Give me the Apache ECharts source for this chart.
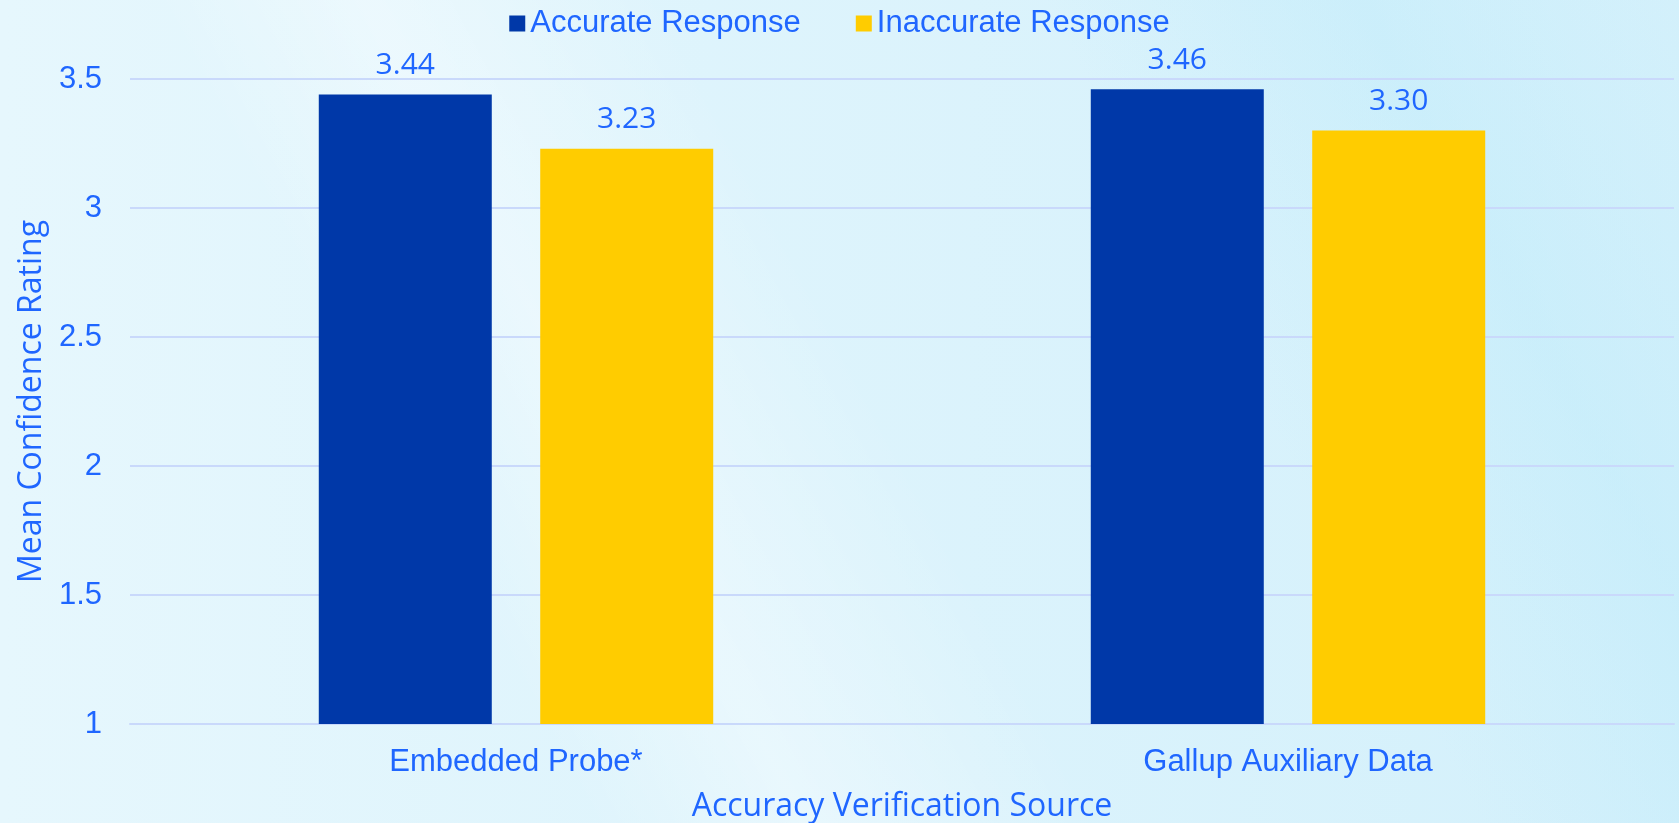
<!DOCTYPE html>
<html>
<head>
<meta charset="utf-8">
<script src="https://cdn.jsdelivr.net/npm/echarts@6/dist/echarts.min.js"></script>
<style>
html, body {
    margin: 0;
    padding: 0;
}
body {
    width: 1679px;
    height: 823px;
    background:
        linear-gradient(62deg, rgba(255,255,255,0) 28%, rgba(255,255,255,0.35) 38%, rgba(255,255,255,0) 52%),
        linear-gradient(62deg, rgba(255,255,255,0) 70%, rgba(190,235,250,0.45) 85%, rgba(255,255,255,0) 100%),
        linear-gradient(to right, #e6f7fd, #d3f0fb);
}
#chart {
    width: 1679px;
    height: 823px;
}
</style>
</head>
<body>
<div id="chart"></div>
<script>
// data
const categories = ['Embedded Probe*', 'Gallup Auxiliary Data'];
const seriesNames = ['Accurate Response', 'Inaccurate Response'];
const accurate = [3.44, 3.46];
const inaccurate = [3.23, 3.30];

const textBlue = '#1f66ff';
const chart = echarts.init(document.getElementById('chart'));

chart.setOption({
    backgroundColor: 'transparent',
    color: ['#0038a8', '#ffcc00'],
    legend: {
        data: seriesNames,
        top: 3,
        left: 'center',
        icon: 'rect',
        itemWidth: 16,
        itemHeight: 16,
        itemGap: 55,
        textStyle: { color: textBlue, fontSize: 31, fontFamily: 'Liberation Sans' }
    },
    grid: {
        left: 130,
        right: 5,
        top: 79,
        bottom: 99,
        outerBoundsMode: 'none'
    },
    xAxis: {
        type: 'category',
        data: categories,
        name: 'Accuracy Verification Source',
        nameLocation: 'middle',
        nameGap: 67,
        nameTextStyle: { color: textBlue, fontSize: 32, fontFamily: 'Open Sans' },
        axisLine: { lineStyle: { color: '#c9d9fb', width: 2 } },
        axisTick: { show: false },
        axisLabel: { color: textBlue, fontSize: 31, margin: 23, fontFamily: 'Liberation Sans' }
    },
    yAxis: {
        type: 'value',
        min: 1,
        max: 3.5,
        interval: 0.5,
        name: 'Mean Confidence Rating',
        nameLocation: 'middle',
        nameGap: 82,
        nameTextStyle: { color: textBlue, fontSize: 32, fontFamily: 'Open Sans' },
        axisLine: { show: false },
        axisTick: { show: false },
        axisLabel: { color: textBlue, fontSize: 31, margin: 28, fontFamily: 'Liberation Sans' },
        splitLine: { lineStyle: { color: '#c9d9fb', width: 2 } }
    },
    series: [
        {
            name: seriesNames[0],
            type: 'bar',
            data: accurate,
            barWidth: 173,
            barGap: '28%',
            label: {
                show: true,
                position: 'top',
                distance: 14,
                color: textBlue,
                fontSize: 30,
                fontFamily: 'Open Sans',
                formatter: p => p.value.toFixed(2)
            }
        },
        {
            name: seriesNames[1],
            type: 'bar',
            data: inaccurate,
            barWidth: 173,
            barGap: '28%',
            label: {
                show: true,
                position: 'top',
                distance: 14,
                color: textBlue,
                fontSize: 30,
                fontFamily: 'Open Sans',
                formatter: p => p.value.toFixed(2)
            }
        }
    ]
});
</script>
</body>
</html>
